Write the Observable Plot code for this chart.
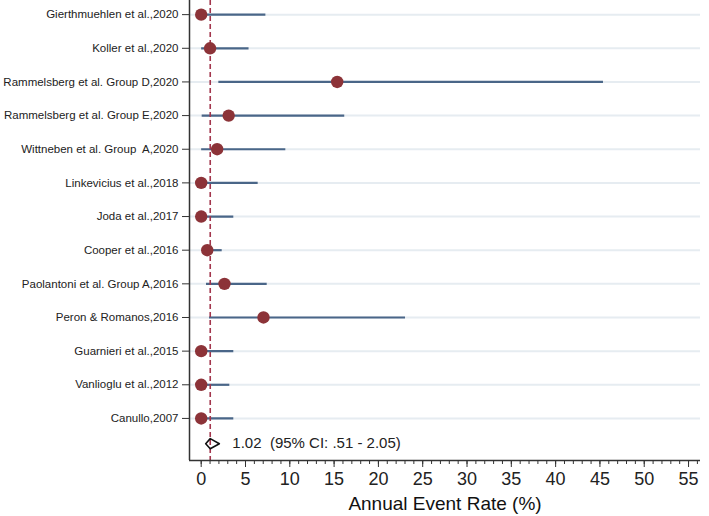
<!DOCTYPE html>
<html>
<head>
<meta charset="utf-8">
<script src="https://cdn.jsdelivr.net/npm/d3@7"></script>
<script src="https://cdn.jsdelivr.net/npm/@observablehq/plot@0.6"></script>
<style>
  html, body { margin: 0; padding: 0; background: #fff; }
  #chart svg { display: block; }
</style>
</head>
<body>
<div id="chart"></div>
<script>
const studies = [
  "Gierthmuehlen et al.,2020",
  "Koller et al.,2020",
  "Rammelsberg et al. Group D,2020",
  "Rammelsberg et al. Group E,2020",
  "Wittneben et al. Group  A,2020",
  "Linkevicius et al.,2018",
  "Joda et al.,2017",
  "Cooper et al.,2016",
  "Paolantoni et al. Group A,2016",
  "Peron & Romanos,2016",
  "Guarnieri et al.,2015",
  "Vanlioglu et al.,2012",
  "Canullo,2007"
];
const rates = [0, 1.0, 15.35, 3.1, 1.8, 0, 0, 0.68, 2.63, 7.03, 0, 0, 0];
const lower = [0, 0.05, 1.99, 0.11, 0.05, 0, 0, 0.15, 0.6, 0.94, 0, 0, 0];
const upper = [7.3, 5.4, 45.4, 16.2, 9.55, 6.43, 3.68, 2.37, 7.45, 23.06, 3.68, 3.23, 3.68];

const pooled = {est: 1.02, lo: 0.51, hi: 2.05, label: "1.02  (95% CI: .51 - 2.05)"};
const xTicks = d3.range(0, 56, 5);
const xMinor = d3.range(0, 57, 1);

const rows = studies.map((s, i) => ({study: s, row: i + 1, rate: rates[i], lo: lower[i], hi: upper[i]}));
const pooledRow = 13.75;
const xDomain = [-1.32, 56.35];
const yDomain = [0.58, 14.25];
const dh = 0.15;
const diamond = [
  {x: pooled.lo, y: pooledRow},
  {x: pooled.est, y: pooledRow - dh},
  {x: pooled.hi, y: pooledRow},
  {x: pooled.est, y: pooledRow + dh},
  {x: pooled.lo, y: pooledRow}
];

const chart = Plot.plot({
  width: 709,
  height: 516,
  marginLeft: 189,
  marginRight: 9,
  marginTop: 0,
  marginBottom: 56,
  style: {fontFamily: "'Liberation Sans', Arial, Helvetica, sans-serif", color: "#222", background: "#fff"},
  x: {domain: xDomain},
  y: {domain: yDomain, reverse: true},
  marks: [
    Plot.ruleY(rows, {y: "row", x1: xDomain[0], x2: xDomain[1], stroke: "#e6ecf1", strokeWidth: 2}),
    Plot.ruleY(rows, {y: "row", x1: "lo", x2: "hi", stroke: "#4a6688", strokeWidth: 2.2}),
    Plot.ruleX([pooled.est], {y1: yDomain[0], y2: yDomain[1], stroke: "#a3364d", strokeWidth: 1.6, strokeDasharray: "5,3"}),
    Plot.dot(rows, {x: "rate", y: "row", r: 6.2, fill: "#8c3338", stroke: "none"}),
    Plot.line(diamond, {x: "x", y: "y", stroke: "#111", strokeWidth: 1.6, fill: "none"}),
    Plot.text([pooled], {x: "hi", y: () => pooledRow, text: "label", textAnchor: "start", dx: 13, fontSize: 15, fill: "#222"}),
    Plot.ruleX([xDomain[0]], {y1: yDomain[0], y2: yDomain[1], stroke: "#333", strokeWidth: 1.5}),
    Plot.ruleY([yDomain[1]], {x1: xDomain[0], x2: xDomain[1], stroke: "#333", strokeWidth: 1.5}),
    Plot.axisY({ticks: rows.map(d => d.row), tickFormat: i => studies[i - 1], tickSize: 7, tickPadding: 4, fontSize: 11.5, stroke: "#333"}),
    Plot.axisX({ticks: xMinor, tickSize: 4, tickFormat: () => "", stroke: "#333", label: null}),
    Plot.axisX({ticks: xTicks, tickSize: 7, tickPadding: 5, fontSize: 18, stroke: "#333", label: null}),
    Plot.text(["Annual Event Rate (%)"], {frameAnchor: "bottom", dy: 49, fontSize: 19, fill: "#111"})
  ]
});
document.getElementById("chart").appendChild(chart);
</script>
</body>
</html>
